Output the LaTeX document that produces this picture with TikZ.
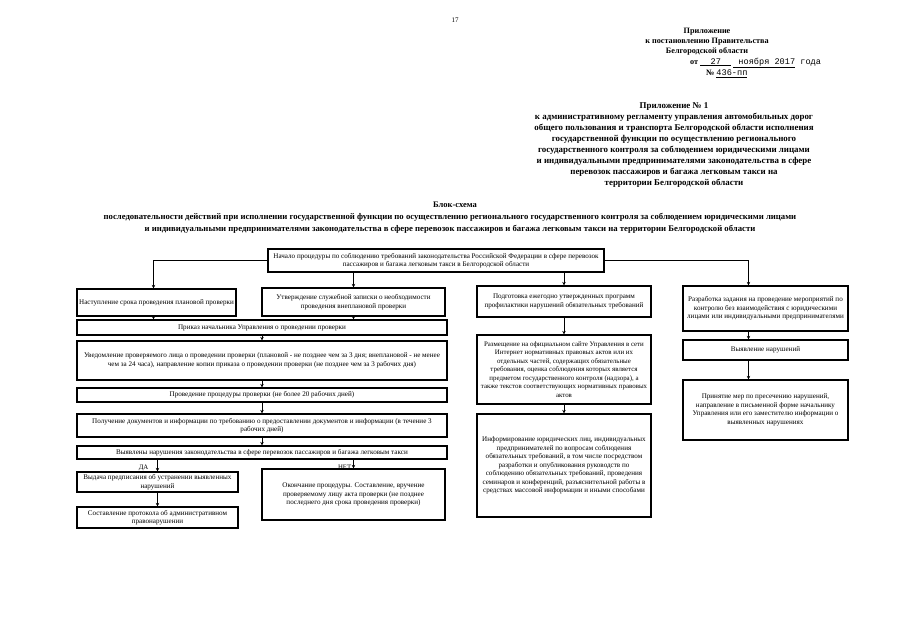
\documentclass[tikz,border=0pt]{standalone}
\usepackage{fontspec}
\setmainfont{Liberation Serif}
\newfontfamily\typew{Liberation Mono}
\usetikzlibrary{arrows.meta}
\newcommand\bx[7]{%
\pgfmathsetmacro\bw{#4-#2}\pgfmathsetmacro\bh{#5-#3}%
\node[box,minimum width=\bw pt,minimum height=\bh pt,#6] (#1) at ({(#2+#4)/2},{(#3+#5)/2}) {#7};}
\begin{document}
\begin{tikzpicture}[x=1pt,y=-1pt,
 box/.style={draw, line width=1.2pt, align=center, font=\fontsize{7.1}{8.5}\selectfont, inner sep=0.5pt},
 arr/.style={-{Stealth[length=3.5pt,width=3.5pt]}, line width=0.8pt},
 hdr/.style={font=\fontsize{8.2}{10}\selectfont\bfseries, align=center, inner sep=0pt},
 mono/.style={},
 lbl/.style={font=\fontsize{6.8}{7.5}\selectfont, inner sep=1pt}]
\useasboundingbox (0,0) rectangle (905,640);
\fill[white] (0,0) rectangle (905,640);
% page number
\node[font=\fontsize{7}{8}\selectfont] (pg) at (455,20) {17};
% header
\node[hdr, anchor=north] (h1) at (707,28) {Приложение\\к постановлению Правительства\\Белгородской области};
\node[hdr, anchor=west] (h2) at (690,63) {от \underline{\typew\mdseries\fontsize{8.6}{10}\selectfont\ \ 27\ \ }\ \underline{\typew\mdseries\fontsize{8.6}{10}\selectfont\ ноября 2017}{\typew\mdseries\fontsize{8.6}{10}\selectfont\ года}};
\node[hdr, anchor=west] (h3) at (706,74) {№ \underline{\typew\mdseries\fontsize{8.6}{10}\selectfont 436-пп}};
\node[hdr, anchor=north, font=\fontsize{8.9}{11.1}\selectfont\bfseries] (h4) at (674,102) {Приложение № 1\\
к административному регламенту управления автомобильных дорог\\
общего пользования и транспорта Белгородской области исполнения\\
государственной функции по  осуществлению регионального\\
государственного контроля за соблюдением юридическими лицами\\
и индивидуальными предпринимателями законодательства в сфере\\
перевозок пассажиров и багажа легковым такси на\\
территории  Белгородской области};
% title
\node[hdr, font=\fontsize{8.5}{12}\selectfont\bfseries] (t1) at (455,205) {Блок-схема};
\node[hdr, anchor=north, font=\fontsize{8.7}{12}\selectfont\bfseries] (t2) at (450,213) {последовательности действий при исполнении государственной функции по осуществлению регионального государственного контроля за соблюдением юридическими лицами\\
и индивидуальными предпринимателями законодательства в сфере перевозок пассажиров и багажа легковым такси на территории Белгородской области};
% boxes
\bx{top}{268}{249}{604}{272}{}{Начало процедуры по соблюдению требований законодательства Российской Федерации в сфере перевозок\\пассажиров и багажа легковым такси в Белгородской области}
\bx{A}{77}{289}{236}{316}{}{Наступление срока проведения плановой проверки}
\bx{B}{262}{288}{445}{316}{}{Утверждение служебной записки о необходимости\\проведения внеплановой проверки}
\bx{C}{477}{286}{651}{317}{}{Подготовка ежегодно утвержденных программ\\профилактики нарушений обязательных требований}
\bx{D}{683}{286}{848}{331}{}{Разработка задания на проведение мероприятий по\\контролю без взаимодействия с юридическими\\лицами или индивидуальными предпринимателями}
\bx{E}{77}{320}{447}{335}{}{Приказ начальника Управления о проведении проверки}
\bx{F}{77}{341}{447}{380}{}{Уведомление проверяемого лица о проведении проверки (плановой - не позднее чем за 3 дня; внеплановой - не менее\\чем за 24 часа), направление копии приказа о проведении проверки (не позднее чем за 3 рабочих дня)}
\bx{G}{77}{388}{447}{402}{}{Проведение процедуры проверки (не более 20 рабочих дней)}
\bx{H}{77}{414}{447}{437}{}{Получение документов и информации по требованию о предоставлении документов и информации (в течение 3\\рабочих дней)}
\bx{I}{77}{446}{447}{459}{}{Выявлены нарушения законодательства в сфере перевозок пассажиров и багажа легковым такси}
\bx{J}{77}{472}{238}{492}{}{Выдача предписания об устранении выявленных\\нарушений}
\bx{K}{77}{507}{238}{528}{}{Составление протокола об административном\\правонарушении}
\bx{L}{262}{469}{445}{520}{}{Окончание процедуры. Составление, вручение\\проверяемому лицу акта проверки (не позднее\\последнего дня срока проведения проверки)}
\bx{M}{477}{335}{651}{404}{font=\fontsize{6.9}{8.5}\selectfont}{Размещение на официальном сайте Управления в сети\\Интернет нормативных правовых актов или их\\отдельных частей, содержащих обязательные\\требования, оценка соблюдения которых является\\предметом государственного контроля (надзора),  а\\также текстов соответствующих нормативных правовых\\актов}
\bx{N}{477}{414}{651}{517}{}{Информирование юридических лиц, индивидуальных\\предпринимателей по вопросам соблюдения\\обязательных требований, в том числе посредством\\разработки и опубликования руководств по\\соблюдению обязательных требований, проведения\\семинаров и конференций, разъяснительной работы в\\средствах массовой информации и иными способами}
\bx{O}{683}{340}{848}{360}{}{Выявление нарушений}
\bx{P}{683}{380}{848}{440}{}{Принятие мер по пресечению нарушений,\\направление в письменной форме начальнику\\Управления или его заместителю информации о\\выявленных нарушениях}
% connectors
\draw[arr] (top.west) -| ([xshift=-3pt]A.north);
\draw[arr] (top.east) -| ([xshift=-17pt]D.north);
\draw[arr] (top.south -| B.north) -- (B.north);
\draw[arr] (top.south -| C.north) -- (C.north);
\draw[arr] ([xshift=-3pt]A.south) -- ([xshift=-3pt]A.south |- E.north);
\draw[arr] (B.south) -- (B.south |- E.north);
\draw[arr] (E.south) -- (F.north);
\draw[arr] (F.south) -- (G.north);
\draw[arr] (G.south) -- (H.north);
\draw[arr] (H.south) -- (I.north);
\draw[arr] (I.south -| J.north) -- (J.north);
\draw[arr] (J.south) -- (K.north);
\draw[arr] (I.south -| L.north) -- (L.north);
\draw[arr] (C.south) -- (M.north);
\draw[arr] (M.south) -- (N.north);
\draw[arr] ([xshift=-17pt]D.south) -- ([xshift=-17pt]O.north);
\draw[arr] ([xshift=-17pt]O.south) -- ([xshift=-17pt]P.north);
% labels
\node[lbl, anchor=south east] (da) at ([xshift=-8pt,yshift=-1pt]J.north) {ДА};
\node[lbl, anchor=south east] (net) at ([xshift=-1pt,yshift=-2pt]L.north) {НЕТ};
\end{tikzpicture}
\end{document}
